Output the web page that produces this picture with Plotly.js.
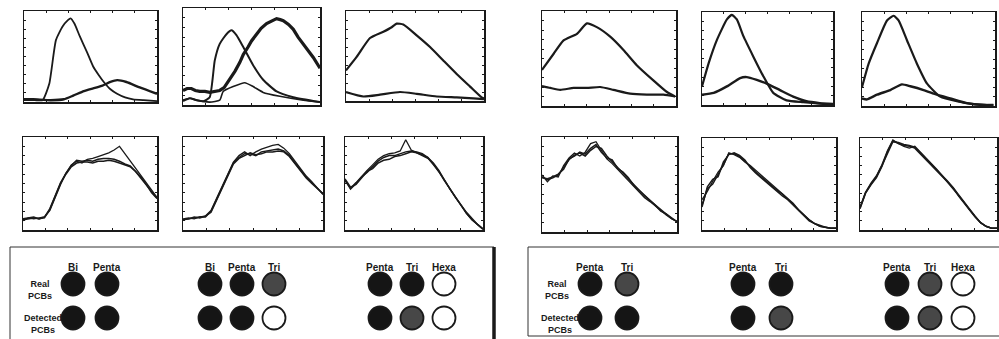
<!DOCTYPE html>
<html><head><meta charset="utf-8">
<script src="https://cdn.plot.ly/plotly-3.0.1.min.js"></script>
<style>html,body{margin:0;padding:0;background:#fff}#c{width:999px;height:339px}</style>
</head><body><div id="c"></div>
<script>
// ---------- DATA (x normalized 0-100, y relative 0-100) ----------
const grid4 = [0,4,8,12,16,20,24,28,32,36,40,44,48,52,56,60,64,68,72,76,80,84,88,92,96,100];

// Top row
const p1aX = [0,8,14,19,24,29,33,35,38,42,47,52,56,60,65,70,76,82,90,100];
const p1aY = [2,2,2,20,68,83,90,92,86,72,56,39,30,22,14,9,5,3,2,1];
const p1bX = [0,7,20,30,37,45,52,59,65,70,77,87,100];
const p1bY = [3,3,2,3,7,12,15,18,22,24,22,16,9];

const p2aX = [0,5,10,15,19.5,23.2,26.8,31.7,35.4,39,43.9,51.2,58.5,68.3,80.5,100];
const p2aY = [4,7,5,4,8,46,63,73,77,72,60,41,26,14,8,3];
const p2bX = [0,3,6.1,9,12.2,16,19.5,23,26.8,30,34.1,38,41.5,44,47.6,50,53.7,57,61,64,68.3,71,73.2,77,80.5,84,87.8,91,95.1,100];
const p2bY = [15,17,17,15,14,14,13,14,15,18,26,35,44,52,60,66,73,79,84,86,89,88,87,83,78,70,63,56,49,38];
const p2cX = [0,4.9,9.8,19.5,26.8,29.3,36.6,45.1,51.2,58.5,70.7,87.8,100];
const p2cY = [5,7,5,3,5,14,19,23,19,13,9,5,3];

const p3aX = [0,7.7,17.4,27.1,33.1,36.7,41.5,51.2,60.9,70.5,80.2,89.9,98.3,100];
const p3aY = [34,49,70,77,82,86,85,73,60,45,30,16,4,3];
const p3bX = [0,12.6,24.6,39.1,51.2,65.7,80.2,92.3,100];
const p3bY = [10,5,7,10,8,5,4,3,2];

const p4aX = [0,8.7,16.1,26.1,33.5,40.9,50.9,60.8,70.7,83.1,93,99.3];
const p4aY = [38,55,69,76,87,83,73,59,43,27,15,10];
const p4bX = [0,6.2,13.6,23.6,33.5,43.4,53.3,65.8,78.2,90.6,99.3];
const p4bY = [21,19,17,19,19,20,17,13,12,12,10];

const p5aX = [0,5.1,11.4,19,22.8,26.6,31.6,39.2,46.8,54.4,64.6,77.2,94.9,100];
const p5aY = [20,45,70,92,97,92,74,52,31,13,5,3,1,1];
const p5bX = [0,8.9,19,29.1,34.2,41.8,49.4,59.5,69.6,79.7,89.9,100];
const p5bY = [11,13,20,29,30,27,23,16,9,4,2,1];

const p6aX = [0,5,11.3,18.8,23.8,27.5,33.8,41.3,48.8,58.8,71.3,83.8,98.8];
const p6aY = [20,45,67,91,96,91,70,45,24,10,5,2,1];
const p6bX = [0,3.8,11.3,21.3,30,36.3,46.3,56.3,66.3,78.8,91.3,98.8];
const p6bY = [8,7,12,17,23,21,17,12,8,3,1,1];

// Bottom row (three overlaid runs each, on grid4)
const p7Y1 = [11,12,13,12,13,22,37,50,60,68,72,73,73,72,74,74,75,74,72,70,68,63,56,49,41,34];
const p7Y2 = [10,13,12,13,14,23,38,51,61,70,74,72,76,77,79,81,83,86,90,82,74,66,59,51,42,35];
const p7Y3 = [12,13,14,12,14,21,36,49,61,69,75,74,75,74,76,77,77,76,74,71,69,63,57,49,40,34];

const p8Y1 = [11,12,13,14,14,20,33,46,60,72,78,82,82,80,84,85,86,87,85,80,72,64,57,51,45,39];
const p8Y2 = [12,13,12,14,15,21,34,47,61,73,80,84,80,84,87,89,91,92,88,82,74,65,58,52,45,38];
const p8Y3 = [11,12,14,13,15,19,32,45,59,71,77,80,83,81,82,84,84,85,84,79,71,63,56,50,44,39];

const p9Y1 = [54,44,50,57,62,68,74,78,80,80,82,84,85,84,82,78,72,64,54,44,35,27,18,11,6,1];
const p9Y2 = [53,45,51,58,64,70,76,80,82,83,85,97,86,83,80,77,71,63,54,44,35,26,18,11,6,1];
const p9Y3 = [55,46,49,56,63,66,72,75,76,79,80,82,84,83,81,78,71,63,53,44,36,27,19,12,6,1];

const p10Y1 = [58,55,57,60,68,76,81,83,80,86,90,88,80,74,68,62,56,50,43,38,33,28,23,19,14,11];
const p10Y2 = [60,53,59,58,70,78,83,80,84,93,95,86,77,72,66,61,55,48,42,36,32,27,23,18,14,11];
const p10Y3 = [57,56,58,61,66,77,80,84,82,88,92,84,78,76,67,63,57,49,44,39,33,28,22,19,15,11];

const p11Y1 = [27,45,50,60,71,83,83,80,75,69,63,58,52,47,43,39,34,28,22,16,11,7,5,3,2,2];
const p11Y2 = [33,42,53,63,70,84,82,79,74,70,65,60,55,50,45,40,35,29,22,16,11,7,4,3,2,2];
const p11Y3 = [25,47,55,58,74,82,84,81,76,68,62,57,51,46,42,37,33,27,21,15,10,7,4,3,2,2];

const p12Y1 = [24,40,50,58,70,84,96,95,93,92,90,84,78,72,66,60,53,46,38,30,22,15,8,4,2,2];
const p12Y2 = [25,41,51,59,71,86,98,94,91,89,91,85,78,72,66,59,52,45,38,30,22,15,8,4,2,2];
const p12Y3 = [23,40,49,57,69,85,97,94,92,91,89,83,77,71,65,59,53,46,37,29,21,14,8,4,2,2];

// Legend panel content
const groupLabels = [['Bi','Penta'],['Bi','Penta','Tri'],['Penta','Tri','Hexa'],['Penta','Tri'],['Penta','Tri'],['Penta','Tri','Hexa']];
const realPCBs     = [['S','S'],['S','S','D'],['S','S','O'],['S','D'],['S','S'],['S','D','O']];
const detectedPCBs = [['S','S'],['S','S','O'],['S','D','O'],['S','S'],['S','D'],['S','D','O']];
const rowLabels = ['Real<br>PCBs','Detected<br>PCBs'];

// ---------- LAYOUT GEOMETRY (pixels) ----------
const W = 999, H = 339;
const boxes = [
  [24,157,11,102],[183,320,8,105],[346,484,11,101],[542,676,11,106],[702,833,12,105],[862,995,12,106],
  [23,157,137,230],[183,323,137,230],[345,483,137,230],[542,677,137,232],[702,836,138,230],[860,997,138,230]
];
const groupStartPx = [73,210,380,590,743,897];
const groupStepPx  = [34,32,32,37,38,33];
const headerY = 267, realY = 284, detY = 318;
const rowLabelX = [40,557];

const ink = '#1a1a1a';
const traces = [];
function line(n, xs, ys, w, smooth){
  traces.push({x:xs, y:ys, xaxis:'x'+(n===1?'':n), yaxis:'y'+(n===1?'':n), mode:'lines',
    line:{color:ink, width:w, shape: smooth ? 'spline' : 'linear', smoothing:0.5}, hoverinfo:'skip', showlegend:false});
}
line(1,p1aX,p1aY,1.8,true); line(1,p1bX,p1bY,2.4,true);
line(2,p2aX,p2aY,2,true); line(2,p2bX,p2bY,3.2,false); line(2,p2cX,p2cY,1.6,true);
line(3,p3aX,p3aY,2.2,true); line(3,p3bX,p3bY,2.2,true);
line(4,p4aX,p4aY,2.2,true); line(4,p4bX,p4bY,2.2,true);
line(5,p5aX,p5aY,2.2,true); line(5,p5bX,p5bY,2.4,true);
line(6,p6aX,p6aY,2.2,true); line(6,p6bX,p6bY,2.4,true);
[[7,p7Y1,p7Y2,p7Y3],[8,p8Y1,p8Y2,p8Y3],[9,p9Y1,p9Y2,p9Y3],[10,p10Y1,p10Y2,p10Y3],[11,p11Y1,p11Y2,p11Y3],[12,p12Y1,p12Y2,p12Y3]]
  .forEach(([n,a,b,c]) => { line(n,grid4,a,1.5,false); line(n,grid4,b,1.3,false); line(n,grid4,c,1.5,false); });

const layout = {
  width:W, height:H, margin:{l:0,r:0,t:0,b:0}, paper_bgcolor:'#fff', plot_bgcolor:'rgba(0,0,0,0)',
  showlegend:false, font:{family:'Liberation Sans, Arial, sans-serif', color:ink},
  shapes:[], annotations:[]
};
boxes.forEach((b,i)=>{
  const n = i+1, s = n===1?'':n;
  layout['xaxis'+s] = {domain:[b[0]/W,b[1]/W], range:[0,100], anchor:'y'+s, showline:true, mirror:'ticks',
    linecolor:ink, linewidth:1.5, ticks:'inside', ticklen:2, tickcolor:ink, dtick:100/6,
    showgrid:false, zeroline:false, showticklabels:false, fixedrange:true};
  layout['yaxis'+s] = {domain:[1-b[3]/H,1-b[2]/H], range:[0,100], anchor:'x'+s, showline:true, mirror:'ticks',
    linecolor:ink, linewidth:1.5, ticks:'inside', ticklen:2, tickcolor:ink, dtick:10,
    showgrid:false, zeroline:false, showticklabels:false, fixedrange:true};
});
// overlay pixel axis for the legend panel
layout.xaxis13 = {domain:[0,1], range:[0,W], anchor:'y13', visible:false, fixedrange:true};
layout.yaxis13 = {domain:[0,1], range:[H,0], anchor:'x13', visible:false, fixedrange:true};

// panel frames
layout.shapes.push({type:'rect', xref:'x13', yref:'y13', x0:10, x1:494, y0:247, y1:345, line:{color:'#333', width:1}});
layout.shapes.push({type:'line', xref:'x13', yref:'y13', x0:494, x1:494, y0:247, y1:345, line:{color:ink, width:3.5}});
layout.shapes.push({type:'rect', xref:'x13', yref:'y13', x0:528, x1:1005, y0:247, y1:336, line:{color:'#333', width:1}});

const fills = {S:'#151515', D:'#474747', O:'#ffffff'};
const cx=[], cy=[], cf=[];
groupLabels.forEach((labs,g)=>{
  labs.forEach((lab,k)=>{
    const x = groupStartPx[g] + k*groupStepPx[g];
    layout.annotations.push({xref:'x13', yref:'y13', x:x, y:headerY, text:'<b>'+lab+'</b>', showarrow:false,
      font:{size:10, family:'Liberation Sans, Arial, sans-serif', color:ink}});
    cx.push(x); cy.push(realY); cf.push(fills[realPCBs[g][k]]);
    cx.push(x); cy.push(detY); cf.push(fills[detectedPCBs[g][k]]);
  });
});
traces.push({x:cx, y:cy, xaxis:'x13', yaxis:'y13', mode:'markers', hoverinfo:'skip', showlegend:false,
  marker:{symbol:'circle', size:23, color:cf, line:{color:ink, width:1.8}}});

rowLabelX.forEach(x=>{
  layout.annotations.push({xref:'x13', yref:'y13', x:x, y:realY+6, text:'<b>'+rowLabels[0]+'</b>', showarrow:false,
    font:{size:9, color:ink}, align:'center'});
  layout.annotations.push({xref:'x13', yref:'y13', x:x+3, y:detY+6, text:'<b>'+rowLabels[1]+'</b>', showarrow:false,
    font:{size:9, color:ink}, align:'center'});
});

Plotly.newPlot('c', traces, layout, {staticPlot:true, displayModeBar:false});
</script>
</body></html>
